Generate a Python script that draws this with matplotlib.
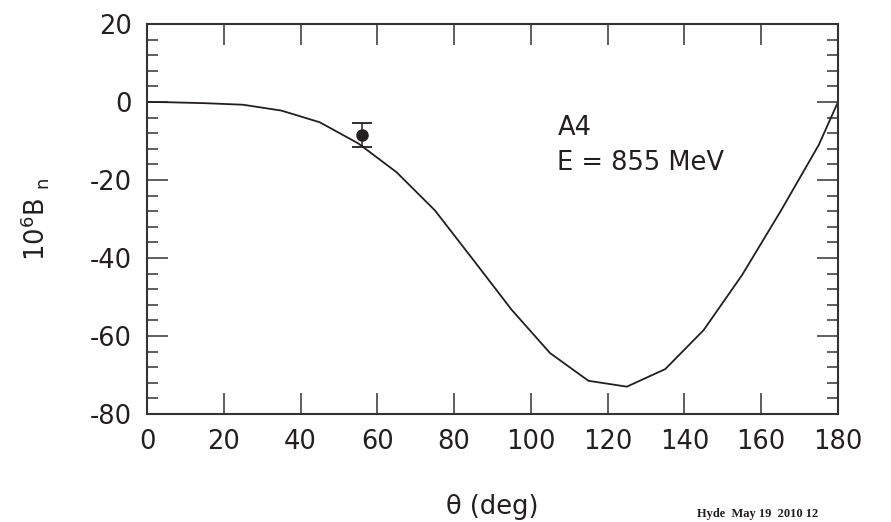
import numpy as np
import matplotlib
matplotlib.use("Agg")
import matplotlib.pyplot as plt
from matplotlib.ticker import MultipleLocator

plt.rcParams["font.family"] = ["DejaVu Sans"]
plt.rcParams["axes.unicode_minus"] = False
plt.rcParams["mathtext.default"] = "regular"

# ── Data ──────────────────────────────────────────────────────
theta_curve = [0, 5, 15, 25, 35, 45, 55, 65, 75, 85, 95, 105, 115, 125, 135, 145, 155, 165, 175, 180]
bn_curve    = [0.0, -0.05, -0.3, -0.7, -2.2, -5.2, -10.6, -18.0, -27.8, -40.5, -53.3,
               -64.4, -71.5, -73.0, -68.5, -58.5, -44.4, -28.1, -11.0, 0.0]

theta_data = [55.9]
bn_data    = [-8.5]
bn_err     = [3.1]

x_ticks = [0, 20, 40, 60, 80, 100, 120, 140, 160, 180]
y_ticks = [20, 0, -20, -40, -60, -80]

# ── Plot ──────────────────────────────────────────────────────
fig = plt.figure(figsize=(8.91, 5.22), dpi=100)
ax = fig.add_axes([0.165, 0.207, 0.7755, 0.747])

ink = "#231f20"
ax.plot(theta_curve, bn_curve, color=ink, lw=1.3)
ax.errorbar(theta_data, bn_data, yerr=bn_err, fmt="o", color=ink, ms=8,
            capsize=7.5, capthick=1.3, elinewidth=1.1)

ax.set_xlim(0, 180)
ax.set_ylim(-80, 20)
ax.set_xticks(x_ticks)
ax.set_yticks(y_ticks)
ax.xaxis.set_minor_locator(MultipleLocator(20))
ax.yaxis.set_minor_locator(MultipleLocator(4))
ax.tick_params(which="both", direction="in", top=True, right=True,
               color="#333333", labelsize=18.5, labelcolor=ink)
ax.tick_params(which="major", length=15, width=1.1, pad=11)
ax.tick_params(which="minor", length=8, width=1.1)
ax.tick_params(axis="x", which="minor", length=15)
for s in ax.spines.values():
    s.set_linewidth(1.5)
    s.set_color("#333333")

ax.set_xlabel("θ (deg)", fontsize=18.5, color=ink, labelpad=28)
ax.set_ylabel("10$^6$B $_n$", fontsize=18.5, color=ink, labelpad=28)

ax.text(0.594, 0.715, "A4", transform=ax.transAxes, fontsize=18.5, color=ink)
ax.text(0.594, 0.625, "E = 855 MeV", transform=ax.transAxes, fontsize=18.5, color=ink)

fig.text(0.782, 0.003, "Hyde  May 19  2010 12", fontsize=9, family="Liberation Serif",
         weight="bold", color=ink, va="bottom")

plt.savefig("out.png", dpi=100)
